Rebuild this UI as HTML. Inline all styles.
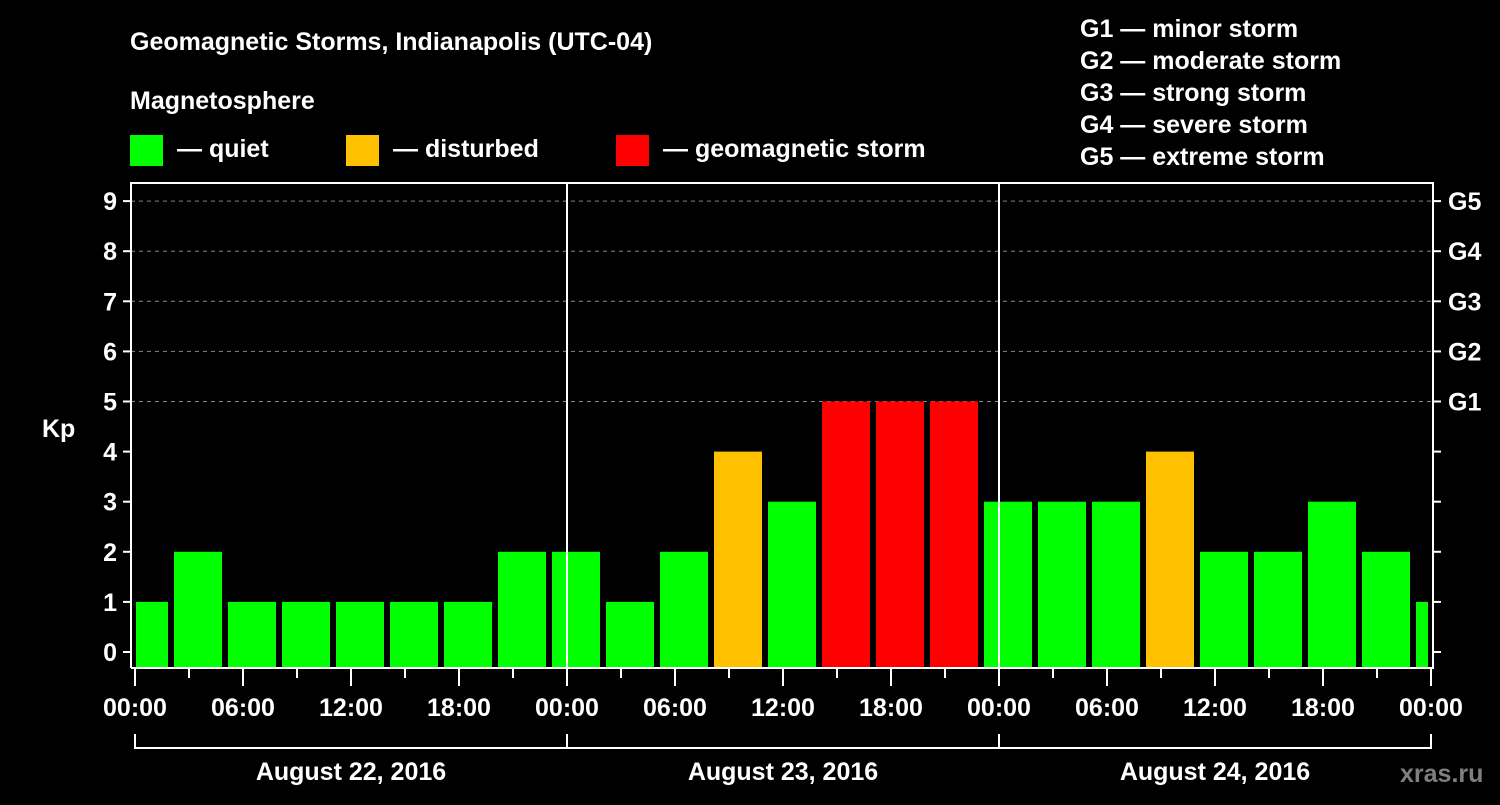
<!DOCTYPE html>
<html><head><meta charset="utf-8"><style>
body{margin:0;background:#000;width:1500px;height:800px;overflow:hidden}
svg text{font-family:"Liberation Sans",Arial,sans-serif;font-weight:bold;fill:#fff}
</style></head><body>
<svg id="c" width="1500" height="800" xmlns="http://www.w3.org/2000/svg">
<rect width="1500" height="800" fill="#000"/>
<text x="130" y="50" font-size="25">Geomagnetic Storms, Indianapolis (UTC-04)</text>
<text x="130" y="109" font-size="25">Magnetosphere</text>
<rect x="130" y="135" width="33" height="31" fill="#00ff00"/>
<text x="177" y="157" font-size="25">— quiet</text>
<rect x="346" y="135" width="33" height="31" fill="#ffc000"/>
<text x="393" y="157" font-size="25">— disturbed</text>
<rect x="616" y="135" width="33" height="31" fill="#ff0000"/>
<text x="663" y="157" font-size="25">— geomagnetic storm</text>
<g font-size="25">
<text x="1080" y="37">G1 — minor storm</text>
<text x="1080" y="69">G2 — moderate storm</text>
<text x="1080" y="101">G3 — strong storm</text>
<text x="1080" y="133">G4 — severe storm</text>
<text x="1080" y="165">G5 — extreme storm</text>
</g>
<text x="42" y="437" font-size="25">Kp</text>
<text x="1400" y="782" font-size="25" fill="#888" style="fill:#7f7f7f">xras.ru</text>
<g id="plot"></g>
</svg>
<script>
const kpValues=[1,2,1,1,1,1,1,2,2,1,2,4,3,5,5,5,3,3,3,4,2,2,3,2,1];
const slotStartHours=-1; // first slot start relative to first midnight
const dayLabels=["August 22, 2016","August 23, 2016","August 24, 2016"];
const timeLabels=["00:00","06:00","12:00","18:00"];
const gLabels=["G1","G2","G3","G4","G5"];
const NS="http://www.w3.org/2000/svg";
const X0=135,PXH=18,Y0=652,PXK=50.1,L=131,R=1433,T=183,B=668;
const x=h=>X0+h*PXH, y=k=>Y0-k*PXK;
const g=document.getElementById('plot');
function mk(tag,a,parent){const e=document.createElementNS(NS,tag);for(const k in a)e.setAttribute(k,a[k]);(parent||g).appendChild(e);return e;}
function col(k){return k>=5?"#ff0000":k>=4?"#ffc000":"#00ff00";}
// grid
for(let k=5;k<=9;k++){const l=mk('line',{x1:L,x2:R,y1:y(k),y2:y(k),stroke:'#888','stroke-dasharray':'4,4','stroke-width':1});

}
// bars
kpValues.forEach((v,i)=>{let s=x(slotStartHours+3*i)+3,e=x(slotStartHours+3*i+3)-3;s=Math.max(s,L+5);e=Math.min(e,R-5);
const r=mk('rect',{x:s,y:y(v),width:e-s,height:B-1-y(v),fill:col(v)});

});
// frame
const f=mk('path',{d:`M${L},${B}V${T}H${R}V${B}H${L}`,fill:'none',stroke:'#fff','stroke-width':2});


for(let d=1;d<3;d++){const l=mk('line',{x1:x(24*d),x2:x(24*d),y1:T,y2:B,stroke:'#fff','stroke-width':2});

}
// y ticks
for(let k=0;k<=9;k++){
mk('line',{x1:L-8,x2:L,y1:y(k),y2:y(k),stroke:'#fff','stroke-width':2});
mk('line',{x1:R,x2:R+8,y1:y(k),y2:y(k),stroke:'#fff','stroke-width':2});
const t=mk('text',{x:L-14,y:y(k)+9,'font-size':25,'text-anchor':'end'});t.textContent=k;

}
gLabels.forEach((s,i)=>{const t=mk('text',{x:R+15,y:y(5+i)+9,'font-size':25});t.textContent=s;

});
// x ticks
for(let h=0;h<=72;h+=3){mk('line',{x1:x(h),x2:x(h),y1:B,y2:B+(h%6?10:18),stroke:'#fff','stroke-width':2});}
for(let h=0;h<=72;h+=6){const t=mk('text',{x:x(h),y:716,'font-size':25,'text-anchor':'middle'});t.textContent=timeLabels[(h/6)%4];

}
mk('path',{d:`M${x(0)},734V748H${x(72)}V734`,fill:'none',stroke:'#fff','stroke-width':2});
for(let d=1;d<3;d++)mk('line',{x1:x(24*d),x2:x(24*d),y1:734,y2:748,stroke:'#fff','stroke-width':2});
dayLabels.forEach((s,i)=>{const t=mk('text',{x:x(24*i+12),y:780,'font-size':25,'text-anchor':'middle'});t.textContent=s;

});
</script>
</body></html>
